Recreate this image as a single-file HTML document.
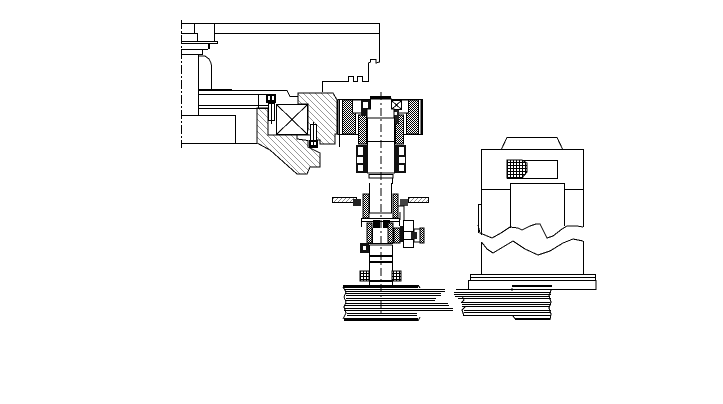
<!DOCTYPE html>
<html><head><meta charset="utf-8"><style>html,body{margin:0;padding:0;background:#fff}svg{display:block}</style></head><body>
<svg width="723" height="404" viewBox="0 0 723 404" xmlns="http://www.w3.org/2000/svg" shape-rendering="crispEdges">
<defs>
<pattern id="h" width="6" height="6" patternUnits="userSpaceOnUse"><path d="M0 0L6 6M-1 5L1 7M5 -1L7 1" stroke="#000" stroke-width=".8"/></pattern>
<pattern id="r" width="4" height="4" patternUnits="userSpaceOnUse"><path d="M0 4L4 0M-1 1L1 -1M3 5L5 3" stroke="#000" stroke-width=".9"/></pattern>
<pattern id="d" width="2" height="2" patternUnits="userSpaceOnUse"><rect width="2" height="2" fill="#fff"/><rect width="1" height="1" fill="#000"/><rect x="1" y="1" width="1" height="1" fill="#000"/></pattern>
<pattern id="g" width="3" height="3" patternUnits="userSpaceOnUse"><rect width="3" height="3" fill="#fff"/><path d="M0 .5H3M.5 0V3" stroke="#000" stroke-width="1"/></pattern>
</defs>
<rect width="723" height="404" fill="#fff"/>
<g fill="none" stroke="#000" stroke-width="1">
<!-- top housing -->
<path d="M181.5 20V148" stroke-dasharray="9 2 2 2"/>
<path d="M181 23.5H379.5V62L376 63V59.5H370.5V62L368.5 63V81.5H362.5V76.5H357.5V81.5H353.5V76.5H348.5V81.5H322.5V92"/>
<path d="M214 33.5H379M214.5 23V41M194.5 23V33M181 33.5H197.5V41M181 41.5H217.5V43.5H181M181 49.5H208M181 54.5H202.5V49M198.5 54V116"/>
<rect x="208" y="43" width="2" height="6" fill="#000" stroke="none"/>
<path d="M198 56H205L209 59L211 63L211.5 66V90"/>
<rect x="198" y="89" width="34" height="2" fill="#000" stroke="none"/>
<path d="M232 90.5H287L290 96.5H298"/>
<path d="M198 94.5H268M198 105.5H268M198 108.5H268M258.5 94V108"/>
<path d="M181 115.5H235.5V143.5M181 143.5H257"/>
<!-- hatched bodies -->
<path d="M257 108H268V135H276.5H297V139L308 140.5V147L320 153V167H310L307 174H297L270 150L257 143Z" fill="url(#h)"/>
<path d="M298 93H333L337 100V134H335V144H320V140H312V135H297V130H308V104H298Z" fill="url(#h)"/>
<rect x="276.5" y="104.5" width="31" height="30" fill="#fff"/>
<path d="M276.5 104.5L307.5 134.5M307.5 104.5L276.5 134.5"/>
<!-- bolts -->
<rect x="266" y="94" width="10" height="9" fill="#000" stroke="none"/>
<rect x="268" y="96" width="2" height="4" fill="#fff" stroke="none"/>
<rect x="272" y="96" width="2" height="4" fill="#fff" stroke="none"/>
<rect x="268.5" y="103.5" width="6" height="17" fill="#fff"/>
<path d="M271.5 102V124"/>
<rect x="310.5" y="124.5" width="6" height="16" fill="#fff"/>
<rect x="309" y="140" width="9" height="8" fill="#000" stroke="none"/>
<rect x="311" y="142" width="2" height="3" fill="#fff" stroke="none"/>
<rect x="314" y="142" width="2" height="3" fill="#fff" stroke="none"/>
<path d="M313.5 122V148"/>
<!-- flange -->
<path d="M338 99.5H422V134.5H338ZM339.5 99V147M422.5 99V135M421 100V134" fill="#fff"/>
<rect x="342.5" y="100" width="13" height="34" fill="url(#d)"/>
<rect x="406.5" y="100" width="12" height="34" fill="url(#d)"/>
<rect x="358.5" y="115" width="8" height="29" fill="url(#d)"/>
<rect x="395.5" y="115" width="8" height="29" fill="url(#d)"/>
<rect x="352.5" y="100" width="17" height="13" fill="#fff"/>
<rect x="391.5" y="100" width="17" height="13" fill="#fff"/>
<rect x="361" y="100" width="9" height="16" fill="#111" stroke="none"/>
<rect x="363" y="102" width="5" height="6" fill="#fff" stroke="none"/>
<rect x="391.5" y="100.5" width="10" height="9" fill="#fff"/>
<path d="M391.5 100.5L401.5 109.5M401.5 100.5L391.5 109.5"/>
<rect x="392" y="110" width="7" height="14" fill="#222" stroke="none"/>
<rect x="394" y="112" width="3" height="3" fill="#fff" stroke="none"/>
<!-- upper shaft -->
<path d="M370.5 99H391.5V109H394V118H367V109H370.5Z" fill="#fff"/>
<rect x="370" y="96" width="21" height="3" fill="#000" stroke="none"/>
<path d="M367.5 118H394.5V173H367.5Z" fill="#fff"/>
<path d="M367 141.5H395M369 174.5H393V178H369ZM369.5 178H392.5V184"/>
<!-- bearings -->
<rect x="356" y="145" width="12" height="28" fill="#111" stroke="none"/>
<rect x="394" y="145" width="12" height="28" fill="#111" stroke="none"/>
<rect x="358" y="147" width="5" height="8" fill="#fff" stroke="none"/>
<rect x="357" y="157" width="6" height="6" fill="#fff" stroke="none"/>
<rect x="358" y="165" width="5" height="6" fill="#fff" stroke="none"/>
<rect x="399" y="147" width="5" height="8" fill="#fff" stroke="none"/>
<rect x="399" y="157" width="6" height="6" fill="#fff" stroke="none"/>
<rect x="399" y="165" width="5" height="6" fill="#fff" stroke="none"/>
<!-- mid shaft & plate -->
<path d="M369.5 183V213M391.5 183V213"/>
<rect x="332.5" y="197.5" width="24" height="5" fill="url(#r)"/>
<rect x="408.5" y="197.5" width="20" height="5" fill="url(#r)"/>
<rect x="353" y="199" width="8" height="7" fill="#222" stroke="none"/>
<rect x="400" y="199" width="8" height="7" fill="#444" stroke="none"/>
<rect x="363" y="194" width="6" height="24" fill="url(#d)"/>
<rect x="393" y="194" width="5" height="24" fill="url(#d)"/>
<path d="M361 218.5H400M361 221.5H400M361.5 218V227M399.5 218V226M369 213H392"/>
<path d="M397.5 206H404V220M400 212V220"/>
<rect x="373" y="220" width="7" height="8" fill="#000" stroke="none"/>
<rect x="383" y="220" width="7" height="8" fill="#000" stroke="none"/>
<rect x="367" y="223" width="5" height="20" fill="url(#d)"/>
<rect x="388" y="223" width="5" height="20" fill="url(#d)"/>
<rect x="394" y="228" width="6" height="15" fill="url(#d)"/>
<path d="M372.5 228V243M388 228V243M366 243.5H393"/>
<!-- right assembly -->
<rect x="400" y="226" width="3" height="16" fill="#111" stroke="none"/>
<rect x="403.5" y="220.5" width="10" height="27" fill="#fff"/>
<rect x="414" y="229" width="6" height="13" fill="#fff"/>
<rect x="420" y="228" width="4" height="15" fill="url(#d)"/>
<rect x="411" y="232" width="6" height="7" fill="#222" stroke="none"/>
<path d="M403 231.5H414M403 239.5H414"/>
<!-- lower shaft -->
<path d="M369.5 245H392.5M369.5 245V285M392.5 245V285"/>
<rect x="360" y="243" width="9" height="10" fill="#111" stroke="none"/>
<rect x="363" y="246" width="3" height="4" fill="#fff" stroke="none"/>
<rect x="369" y="255" width="24" height="2" fill="#000" stroke="none"/>
<rect x="369" y="261" width="24" height="2" fill="#000" stroke="none"/>
<rect x="360" y="271" width="9" height="10" fill="url(#g)"/>
<rect x="392" y="271" width="9" height="10" fill="url(#g)"/>
<rect x="369" y="280" width="24" height="2" fill="#000" stroke="none"/>
<!-- center lines -->
<path d="M381 92V316" stroke-dasharray="8 3 2 3"/>
<!-- pulley left -->
<rect x="343" y="285" width="75" height="3" fill="#000" stroke="none"/>
<rect x="344" y="318" width="74" height="3" fill="#000" stroke="none"/>
<path d="M345 289.5H445M345 291.5H445M345 293.5H441M346 295.5H441M346 298.5H436M346 300.5H435M345 303.5H448M345 305.5H449M344 308.5H453M344 310.5H453M347 313.5H417M347 315.5H417"/>
<path d="M418 285L420 288M343 287L346 292L344 297L346 302L344 307L346 313L343 319M418 321L420 317"/>
<!-- pulley right -->
<path d="M456 289.5H550M454 292.5H551M454 294.5H551M455 296.5H550M458 298.5H551M462 302.5H550M462 304.5H551M462 306.5H550M464 310.5H551M464 312.5H550M463 315.5H551"/>
<path d="M462 296L464 300L461 303M465 307L462 310L464 316"/>
<path d="M551 290L549 296L551 302L549 308L551 314L550 320"/>
<rect x="512" y="285" width="40" height="2" fill="#000" stroke="none"/>
<rect x="515" y="318" width="35" height="2" fill="#000" stroke="none"/>
<path d="M512 288V291M513 316L516 320"/>
<!-- machine right -->
<path d="M501.5 149L507 137.5H557L562.5 149"/>
<path d="M481.5 235V149.5H583.5V227"/>
<rect x="507.5" y="160.5" width="50" height="18"/>
<path d="M507 160H522L527 163V172L522 178H507Z" fill="url(#g)"/>
<path d="M482 189.5H511M565 189.5H583"/>
<path d="M510.5 228V183.5H564.5V226"/>
<path d="M478.5 233V204.5H481.5"/>
<path d="M478 225L480 233L492 238L501 233L510 227L518 228L522 230L530 226L536 224H540L544 232L547 238L553 236L562 229L567 226H577L583 227" fill="none"/>
<path d="M481.5 242V274M583.5 241V274"/>
<path d="M481.5 242L487 249L493 253L503 247L513 241L525 249L538 255L550 251L563 243L573 239L583 241"/>
<path d="M470.5 274.5H595.5M470.5 274V280M595.5 274V280M468 280.5H596M468.5 280V290M596 280V290M468 289.5H596M470 277.5H595"/>
</g>
</svg>
</body></html>
